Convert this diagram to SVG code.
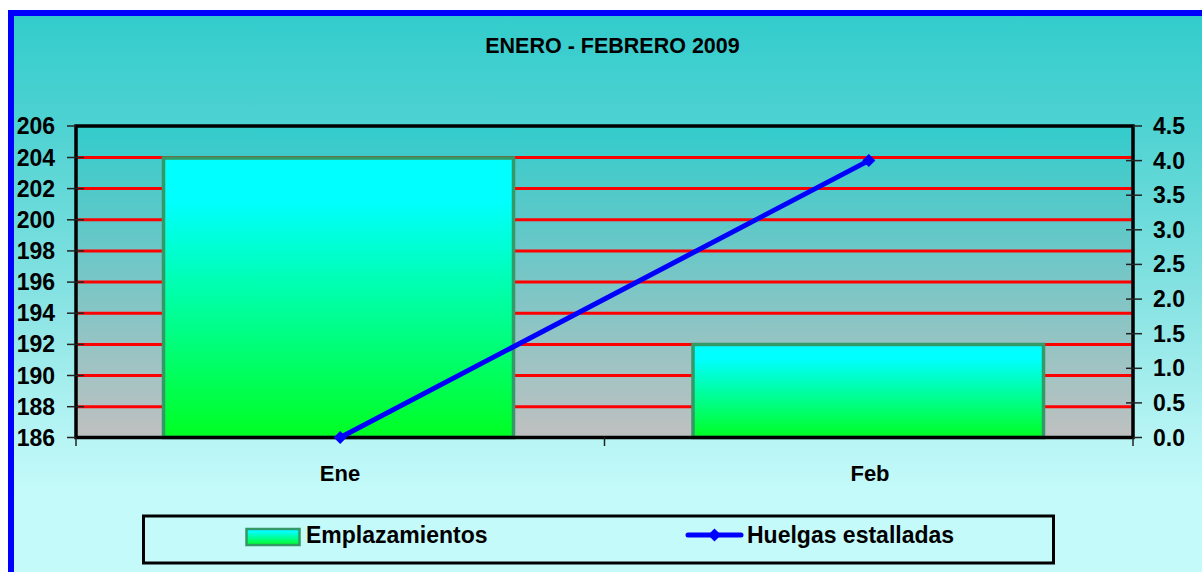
<svg xmlns="http://www.w3.org/2000/svg" width="1202" height="572" viewBox="0 0 1202 572">
<style>
text{font-family:"Liberation Sans",Arial,sans-serif;font-weight:bold;fill:#000}
.yl{font-size:23px;text-anchor:end}
.yr{font-size:23px;text-anchor:start}
.cat{font-size:22px;text-anchor:middle}
.leg{font-size:23px}
.grid{stroke:#FF0000;stroke-width:3}
.tick{stroke:#222;stroke-width:1.5}
.bar{fill:url(#barGrad);stroke:#339966;stroke-width:3.5}
</style>
<defs>
<linearGradient id="bgGrad" x1="0" y1="0" x2="0" y2="1">
<stop offset="0" stop-color="#33CCCC"/>
<stop offset="0.2" stop-color="#4FD2D2"/>
<stop offset="0.5" stop-color="#86E2E2"/>
<stop offset="0.76" stop-color="#B8F5F5"/>
<stop offset="0.86" stop-color="#C4FAFA"/>
<stop offset="1" stop-color="#C4FAFA"/>
</linearGradient>
<linearGradient id="plotGrad" x1="0" y1="0" x2="0" y2="1">
<stop offset="0" stop-color="#33CCCC"/>
<stop offset="1" stop-color="#C0C0C0"/>
</linearGradient>
<linearGradient id="barGrad" x1="0" y1="0" x2="0" y2="1">
<stop offset="0" stop-color="#00FFFF"/>
<stop offset="0.15" stop-color="#00FFFF"/>
<stop offset="1" stop-color="#00FF22"/>
</linearGradient>
<path id="diamond" d="M0,-6.5 L6.5,0 L0,6.5 L-6.5,0 Z" fill="#0000FF"/>
</defs>

<g id="background">
<rect x="0" y="0" width="1202" height="572" fill="#FFFFFF"/>
<rect x="8" y="10" width="1194" height="562" fill="#0000FF"/>
<rect x="14" y="16" width="1188" height="556" fill="url(#bgGrad)"/>
</g>

<g id="title">
<text x="612.5" y="53" font-size="21.5" text-anchor="middle">ENERO - FEBRERO 2009</text>
</g>

<g id="plot-area">
<rect x="76" y="126" width="1057" height="311.5" fill="url(#plotGrad)"/>
<line class="grid" x1="76" y1="157.5" x2="1133" y2="157.5"/>
<line class="grid" x1="76" y1="188.6" x2="1133" y2="188.6"/>
<line class="grid" x1="76" y1="219.8" x2="1133" y2="219.8"/>
<line class="grid" x1="76" y1="250.9" x2="1133" y2="250.9"/>
<line class="grid" x1="76" y1="282.1" x2="1133" y2="282.1"/>
<line class="grid" x1="76" y1="313.2" x2="1133" y2="313.2"/>
<line class="grid" x1="76" y1="344.4" x2="1133" y2="344.4"/>
<line class="grid" x1="76" y1="375.5" x2="1133" y2="375.5"/>
<line class="grid" x1="76" y1="406.7" x2="1133" y2="406.7"/>
</g>

<g id="bar-ene">
<rect class="bar" x="163.5" y="158" width="350" height="279.5"/>
</g>
<g id="bar-feb">
<rect class="bar" x="693" y="344.5" width="350.5" height="93"/>
</g>

<g id="axes">
<rect x="76" y="126" width="1057" height="311.5" fill="none" stroke="#000" stroke-width="3.5"/>
<g class="tick">
<line x1="67" y1="126" x2="76" y2="126"/>
<line x1="67" y1="157.5" x2="84" y2="157.5"/>
<line x1="67" y1="188.6" x2="84" y2="188.6"/>
<line x1="67" y1="219.8" x2="84" y2="219.8"/>
<line x1="67" y1="250.9" x2="84" y2="250.9"/>
<line x1="67" y1="282.1" x2="84" y2="282.1"/>
<line x1="67" y1="313.2" x2="84" y2="313.2"/>
<line x1="67" y1="344.4" x2="84" y2="344.4"/>
<line x1="67" y1="375.5" x2="84" y2="375.5"/>
<line x1="67" y1="406.7" x2="84" y2="406.7"/>
<line x1="67" y1="437.5" x2="76" y2="437.5"/>
<line x1="1133" y1="126" x2="1142" y2="126"/>
<line x1="1126" y1="160.6" x2="1142" y2="160.6"/>
<line x1="1126" y1="195.2" x2="1142" y2="195.2"/>
<line x1="1126" y1="229.8" x2="1142" y2="229.8"/>
<line x1="1126" y1="264.4" x2="1142" y2="264.4"/>
<line x1="1126" y1="299.1" x2="1142" y2="299.1"/>
<line x1="1126" y1="333.7" x2="1142" y2="333.7"/>
<line x1="1126" y1="368.3" x2="1142" y2="368.3"/>
<line x1="1126" y1="402.9" x2="1142" y2="402.9"/>
<line x1="1133" y1="437.5" x2="1142" y2="437.5"/>
<line x1="76" y1="437.5" x2="76" y2="446"/>
<line x1="604.5" y1="437.5" x2="604.5" y2="446"/>
<line x1="1133" y1="437.5" x2="1133" y2="446"/>
</g>
<text class="yl" x="55" y="134">206</text>
<text class="yl" x="55" y="165.5">204</text>
<text class="yl" x="55" y="196.6">202</text>
<text class="yl" x="55" y="227.8">200</text>
<text class="yl" x="55" y="258.9">198</text>
<text class="yl" x="55" y="290.1">196</text>
<text class="yl" x="55" y="321.2">194</text>
<text class="yl" x="55" y="352.4">192</text>
<text class="yl" x="55" y="383.5">190</text>
<text class="yl" x="55" y="414.7">188</text>
<text class="yl" x="55" y="445.5">186</text>
<text class="yr" x="1153" y="134">4.5</text>
<text class="yr" x="1153" y="168.6">4.0</text>
<text class="yr" x="1153" y="203.2">3.5</text>
<text class="yr" x="1153" y="237.8">3.0</text>
<text class="yr" x="1153" y="272.4">2.5</text>
<text class="yr" x="1153" y="307.1">2.0</text>
<text class="yr" x="1153" y="341.7">1.5</text>
<text class="yr" x="1153" y="376.3">1.0</text>
<text class="yr" x="1153" y="410.9">0.5</text>
<text class="yr" x="1153" y="445.5">0.0</text>
<text class="cat" x="340" y="481">Ene</text>
<text class="cat" x="870" y="481">Feb</text>
</g>

<g id="connectors">
<line x1="340.2" y1="437.5" x2="868.8" y2="160.6" stroke="#0000FF" stroke-width="5"/>
<use href="#diamond" x="340.2" y="437.5"/>
<use href="#diamond" x="868.8" y="160.6"/>
</g>

<g id="legend">
<rect x="143.5" y="516" width="910" height="47" fill="none" stroke="#000" stroke-width="3"/>
<rect x="246.5" y="529" width="53" height="16" fill="url(#barGrad)" stroke="#339966" stroke-width="2.5"/>
<text class="leg" x="306" y="543">Emplazamientos</text>
<line x1="688" y1="535" x2="741" y2="535" stroke="#0000FF" stroke-width="5" stroke-linecap="round"/>
<use href="#diamond" x="714.5" y="535"/>
<text class="leg" x="747" y="543">Huelgas estalladas</text>
</g>
</svg>
